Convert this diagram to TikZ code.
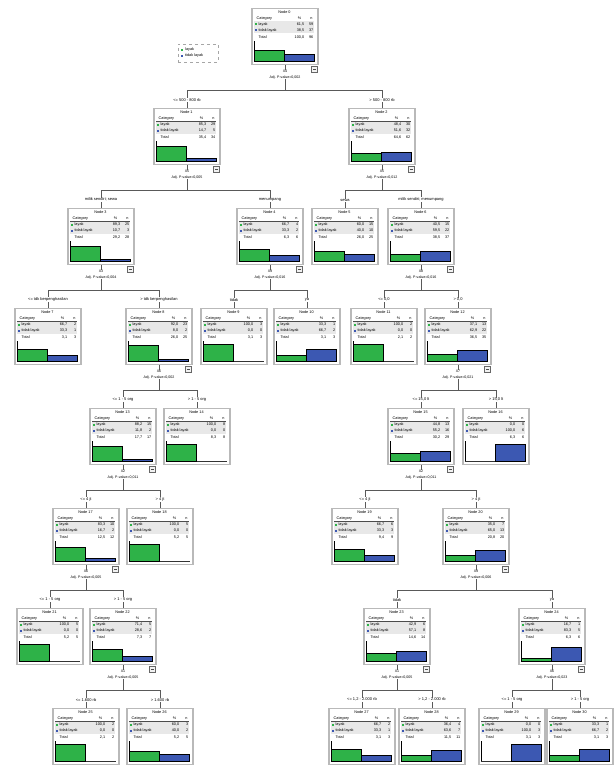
\documentclass[tikz,border=0pt]{standalone}
\usepackage{fontspec}
\setmainfont{Liberation Sans}
\usetikzlibrary{calc,positioning}

\definecolor{lyk}{RGB}{46,178,72}
\definecolor{tlyk}{RGB}{60,88,178}

\tikzset{
  nodebox/.style={draw=gray!55, line width=1.1pt, fill=white, minimum width=66pt,
    minimum height=56pt, inner sep=0pt, anchor=north},
  celltxt/.style={font=\fontsize{3.8}{4}\selectfont, inner sep=0pt},
  brlbl/.style={font=\fontsize{4}{4.5}\selectfont, inner sep=0.3pt, fill=white},
  varlbl/.style={font=\fontsize{3.6}{6}\selectfont, inner sep=0pt, align=center, fill=white},
  conn/.style={draw=black!65, line width=0.6pt},
  rowfill/.style={fill=gray!18},
  barline/.style={draw=black, line width=0.5pt},
  collapsebox/.style={draw=black!60, fill=gray!10, line width=0.4pt}
}

% one tree node: name, position, number, % and n of layak, tidak layak, total
\newcommand{\ctnode}[9]{%
  \node[nodebox] (#1) at (#2) {};
  \pgfmathsetmacro{\hA}{17*#5/#9}%
  \pgfmathsetmacro{\hB}{17*#7/#9}%
  \begin{scope}[shift={(#1.north west)}]
    \node[celltxt] (#1-tt) at (33,4.5) {Node #3};
    \node[celltxt, anchor=west] (#1-hc) at (5,10.5) {Category};
    \node[celltxt] (#1-hp) at (48,10.5) {\%};
    \node[celltxt] (#1-hn) at (60,10.5) {n};
    \draw[black!70, line width=0.3pt] (3,12.7) -- (63,12.7);
    \fill[rowfill] (3,13.5) rectangle (63,25.5);
    \fill[lyk] (3.5,15.5) rectangle (5.5,17.5);
    \node[celltxt, anchor=west] (#1-l1) at (7,16.5) {layak};
    \node[celltxt, anchor=east] (#1-p1) at (53,16.5) {#4};
    \node[celltxt, anchor=east] (#1-n1) at (62,16.5) {#5};
    \fill[tlyk] (3.5,21.5) rectangle (5.5,23.5);
    \node[celltxt, anchor=west] (#1-l2) at (7,22.5) {tidak layak};
    \node[celltxt, anchor=east] (#1-p2) at (53,22.5) {#6};
    \node[celltxt, anchor=east] (#1-n2) at (62,22.5) {#7};
    \node[celltxt, anchor=west] (#1-l3) at (7,29) {Total};
    \node[celltxt, anchor=east] (#1-p3) at (53,29) {#8};
    \node[celltxt, anchor=east] (#1-n3) at (62,29) {#9};
    \draw[black, line width=0.9pt] (2.5,33) -- (2.5,53.5);
    \draw[black!80, line width=0.5pt] (2.5,53) -- (63.5,53);
    \ifnum#5>0 \draw[barline, fill=lyk] (3,53) rectangle (33,{53-\hA}); \fi
    \ifnum#7>0 \draw[barline, fill=tlyk] (33,53) rectangle (63,{53-\hB}); \fi
  \end{scope}}

% split of a parent into two children
\newcommand{\ctsplit}[7]{%
  \draw[collapsebox] ($(#1.south east)+(-7,1)$) rectangle ++(6,6);
  \draw[black!70, line width=0.4pt] ($(#1.south east)+(-5.5,4)$) -- ++(3,0);
  \node[varlbl, below=4.5pt of #1] (#1-v) {#2\\#3};
  \coordinate (#1-h) at ($(#1.south)+(0,25)$);
  \node[brlbl, above=6pt of #4] (#4-b) {#5};
  \node[brlbl, above=6pt of #6] (#6-b) {#7};
  \draw[conn] (#1.south) -- (#1-v.north);
  \draw[conn] (#1-v.south) -- (#1-h);
  \draw[conn] (#1-h) -| (#4-b.north);
  \draw[conn] (#1-h) -| (#6-b.north);
  \draw[conn] (#4-b.south) -- (#4.north);
  \draw[conn] (#6-b.south) -- (#6.north);}

\begin{document}
\begin{tikzpicture}[x=1pt, y=-1pt]
  \useasboundingbox (0,0) rectangle (614,768);

  % legend
  \node[draw=gray!70, dashed, line width=0.5pt, minimum width=40pt, minimum height=18pt,
    inner sep=0pt] (legend) at (198,53) {};
  \fill[lyk] (181,49) rectangle (183,51);
  \node[celltxt, anchor=west] (leg-l) at (185,50) {layak};
  \fill[tlyk] (181,55) rectangle (183,57);
  \node[celltxt, anchor=west] (leg-t) at (185,56) {tidak layak};

  % tree nodes
  \ctnode{n0}{285,8}{0}{61,5}{59}{38,5}{37}{100,0}{96}
  \ctnode{n1}{187,108}{1}{85,3}{29}{14,7}{5}{35,4}{34}
  \ctnode{n2}{382,108}{2}{48,4}{30}{51,6}{32}{64,6}{62}
  \ctnode{n3}{101,208}{3}{89,3}{25}{10,7}{3}{29,2}{28}
  \ctnode{n4}{270,208}{4}{66,7}{4}{33,3}{2}{6,3}{6}
  \ctnode{n5}{345,208}{5}{60,0}{15}{40,0}{10}{26,0}{25}
  \ctnode{n6}{421,208}{6}{40,5}{15}{59,5}{22}{38,5}{37}
  \ctnode{n7}{48,308}{7}{66,7}{2}{33,3}{1}{3,1}{3}
  \ctnode{n8}{159,308}{8}{92,0}{23}{8,0}{2}{26,0}{25}
  \ctnode{n9}{234,308}{9}{100,0}{3}{0,0}{0}{3,1}{3}
  \ctnode{n10}{307,308}{10}{33,3}{1}{66,7}{2}{3,1}{3}
  \ctnode{n11}{384,308}{11}{100,0}{2}{0,0}{0}{2,1}{2}
  \ctnode{n12}{458,308}{12}{37,1}{13}{62,9}{22}{36,5}{35}
  \ctnode{n13}{123,408}{13}{88,2}{15}{11,8}{2}{17,7}{17}
  \ctnode{n14}{197,408}{14}{100,0}{8}{0,0}{0}{8,3}{8}
  \ctnode{n15}{421,408}{15}{44,8}{13}{55,2}{16}{30,2}{29}
  \ctnode{n16}{496,408}{16}{0,0}{0}{100,0}{6}{6,3}{6}
  \ctnode{n17}{86,508}{17}{83,3}{10}{16,7}{2}{12,5}{12}
  \ctnode{n18}{160,508}{18}{100,0}{5}{0,0}{0}{5,2}{5}
  \ctnode{n19}{365,508}{19}{66,7}{6}{33,3}{3}{9,4}{9}
  \ctnode{n20}{476,508}{20}{35,0}{7}{65,0}{13}{20,8}{20}
  \ctnode{n21}{50,608}{21}{100,0}{5}{0,0}{0}{5,2}{5}
  \ctnode{n22}{123,608}{22}{71,4}{5}{28,6}{2}{7,3}{7}
  \ctnode{n23}{397,608}{23}{42,9}{6}{57,1}{8}{14,6}{14}
  \ctnode{n24}{552,608}{24}{16,7}{1}{83,3}{5}{6,3}{6}
  \ctnode{n25}{86,708}{25}{100,0}{2}{0,0}{0}{2,1}{2}
  \ctnode{n26}{160,708}{26}{60,0}{3}{40,0}{2}{5,2}{5}
  \ctnode{n27}{362,708}{27}{66,7}{2}{33,3}{1}{3,1}{3}
  \ctnode{n28}{432,708}{28}{36,4}{4}{63,6}{7}{11,5}{11}
  \ctnode{n29}{512,708}{29}{0,0}{0}{100,0}{3}{3,1}{3}
  \ctnode{n30}{580,708}{30}{33,3}{1}{66,7}{2}{3,1}{3}

  % splits
  \ctsplit{n0}{X4}{Adj. P-value=0,002}{n1}{<= 500 - 800 rb}{n2}{> 500 - 800 rb}
  \ctsplit{n1}{X5}{Adj. P-value=0,005}{n3}{milik sendiri; sewa}{n4}{menumpang}
  \ctsplit{n2}{X5}{Adj. P-value=0,012}{n5}{sewa}{n6}{milik sendiri; menumpang}
  \ctsplit{n3}{X3}{Adj. P-value=0,004}{n7}{<= tdk berpenghasilan}{n8}{> tdk berpenghasilan}
  \ctsplit{n4}{X9}{Adj. P-value=0,016}{n9}{tidak}{n10}{ya}
  \ctsplit{n6}{X8}{Adj. P-value=0,016}{n11}{<= 0,0}{n12}{> 0,0}
  \ctsplit{n8}{X6}{Adj. P-value=0,002}{n13}{<= 1 - 5 org}{n14}{> 1 - 5 org}
  \ctsplit{n12}{X7}{Adj. P-value=0,021}{n15}{<= 15,0 lt}{n16}{> 15,0 lt}
  \ctsplit{n13}{X2}{Adj. P-value=0,011}{n17}{<= 4 jt}{n18}{> 4 jt}
  \ctsplit{n15}{X2}{Adj. P-value=0,011}{n19}{<= 4 jt}{n20}{> 4 jt}
  \ctsplit{n17}{X6}{Adj. P-value=0,005}{n21}{<= 1 - 5 org}{n22}{> 1 - 5 org}
  \ctsplit{n20}{X9}{Adj. P-value=0,006}{n23}{tidak}{n24}{ya}
  \ctsplit{n22}{X1}{Adj. P-value=0,005}{n25}{<= 1.600 rb}{n26}{> 1.600 rb}
  \ctsplit{n23}{X1}{Adj. P-value=0,005}{n27}{<= 1,2 - 2.000 rb}{n28}{> 1,2 - 2.000 rb}
  \ctsplit{n24}{X6}{Adj. P-value=0,023}{n29}{<= 1 - 5 org}{n30}{> 1 - 5 org}
\end{tikzpicture}
\end{document}
